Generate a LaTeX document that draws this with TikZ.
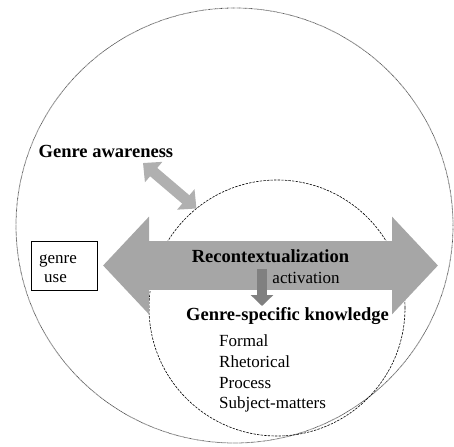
\documentclass[tikz,border=0pt]{standalone}
\usepackage{fontspec}
\setmainfont{Liberation Serif}
\usetikzlibrary{arrows.meta,shapes.geometric}
\definecolor{biggray}{RGB}{166,166,166}
\definecolor{diaggray}{RGB}{176,176,176}
\definecolor{actgray}{RGB}{128,128,128}
\tikzset{
  outerline/.style={draw=black!70, line width=0.8pt, dash pattern=on 0.6pt off 0.6pt},
  innerline/.style={draw=black, line width=0.6pt, dash pattern=on 2.4pt off 1.2pt},
  boldlabel/.style={font=\fontsize{18.5}{22}\selectfont\bfseries, inner sep=0pt},
  plainlabel/.style={font=\fontsize{17}{20}\selectfont, inner sep=0pt},
  bigarrow/.style={color=biggray, line width=49pt,
    {Triangle[width=95pt,length=46pt]}-{Triangle[width=95pt,length=46pt]}},
  diagarrow/.style={color=diaggray, line width=11pt,
    {Triangle[width=26pt,length=14pt]}-{Triangle[width=26pt,length=14pt]}},
  actarrow/.style={color=actgray, line width=10pt, -{Triangle[width=22pt,length=11pt]}},
  usebox/.style={draw=black, line width=0.9pt, fill=white, minimum width=66pt, minimum height=48.5pt, inner sep=0pt},
}
\begin{document}
\begin{tikzpicture}[x=1pt,y=-1pt]
\useasboundingbox (0,0) rectangle (454,446);
% circles
\node[outerline, ellipse, minimum width=437pt, minimum height=435pt, inner sep=0pt, outer sep=0pt] (outer) at (234.5,225.5) {};
\node[innerline, circle, minimum size=256pt, inner sep=0pt, outer sep=0pt] (inner) at (277,308) {};
% big double arrow
\coordinate (lt) at (103,265.5);
\coordinate (rt) at (438,265.5);
\draw[bigarrow] (lt) -- (rt);
% genre use box
\node[usebox] (box) at (64,266) {};
\node[plainlabel, anchor=base west] (genre) at (39,263.5) {genre};
\node[plainlabel, anchor=base west] (use) at (44,282) {use};
% diagonal arrow
\coordinate (gatip) at (143,163);
\draw[diagarrow] (gatip) -- (inner.129.6);
% activation arrow
\coordinate (acttop) at (262,269);
\coordinate (actbot) at (262,306);
\draw[actarrow] (acttop) -- (actbot);
% texts
\node[boldlabel, anchor=base west] (ga) at (38.5,158) {Genre awareness};
\node[boldlabel, anchor=base] (recon) at (270.5,262.5) {Recontextualization};
\node[plainlabel, anchor=base] (act) at (306,283) {activation};
\node[boldlabel, anchor=base] (gsk) at (287.5,320) {Genre-specific knowledge};
\node[plainlabel, anchor=base west] (f1) at (219,346.7) {Formal};
\node[plainlabel, anchor=base west] (f2) at (219,367.3) {Rhetorical};
\node[plainlabel, anchor=base west] (f3) at (219,388.3) {Process};
\node[plainlabel, anchor=base west] (f4) at (219,408.3) {Subject-matters};
\end{tikzpicture}
\end{document}
